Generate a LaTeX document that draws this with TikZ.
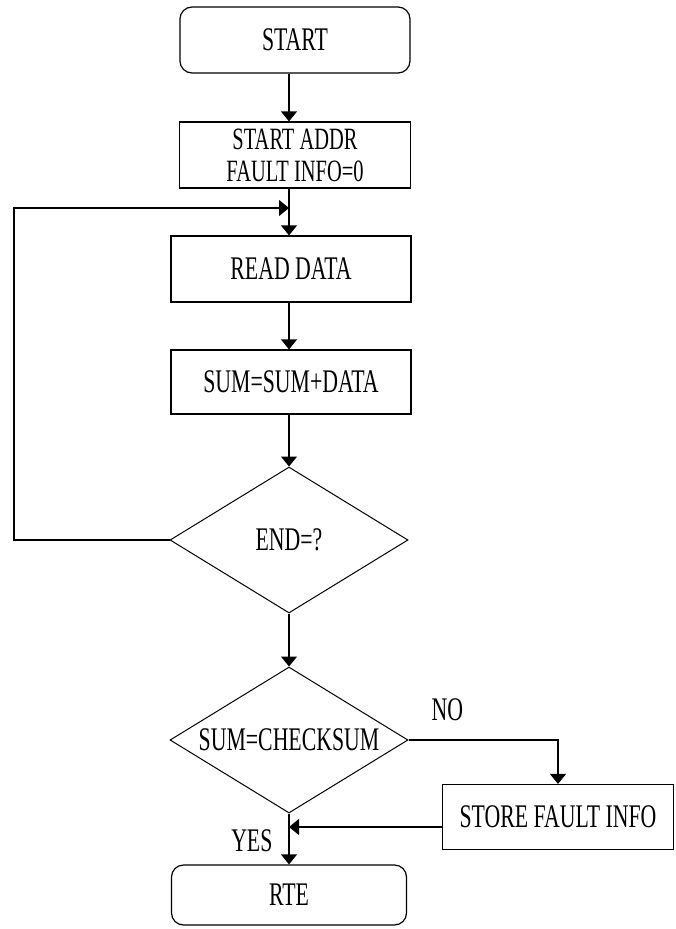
\documentclass[tikz,border=0pt]{standalone}
\usepackage{fontspec}
\setmainfont{Liberation Serif}[FakeStretch=0.66]
\usetikzlibrary{shapes.geometric,arrows.meta}

\begin{document}
\begin{tikzpicture}[x=1pt,y=-1pt,
	font=\fontsize{33}{29}\selectfont,
	pfeil/.style={-{Triangle[width=16pt,length=10pt]}, line width=1.2pt},
	kasten/.style={draw, line width=1.2pt, minimum height=66pt, align=center, inner sep=0pt},
	ende/.style={kasten, rounded corners=12pt},
	raute/.style={draw, diamond, aspect=1.63, line width=1pt, inner sep=0pt, minimum width=238pt, minimum height=146pt},
	marke/.style={inner sep=0pt}]
		%Hintergrund
		\fill [white] (0,0) rectangle (676,929);
		\useasboundingbox (0,0) rectangle (676,929);
		% Bloecke
		\node [ende, minimum width=230pt] (start) at (295,40) {START};
		\node [kasten, minimum width=231pt, font=\fontsize{31}{32}\selectfont] (init) at (295,155) {START ADDR\\FAULT INFO=0};
		\node [kasten, minimum width=240pt] (lesen) at (291,269) {READ DATA};
		\node [kasten, minimum width=240pt, minimum height=64pt] (summe) at (291,382) {SUM=SUM+DATA};
		\node [raute] (fertig) at (289,540) {END=?};
		\node [raute] (pruefen) at (289,740) {SUM=CHECKSUM};
		\node [kasten, minimum width=231pt, minimum height=65pt] (fehler) at (558,817) {STORE FAULT INFO};
		\node [ende, minimum width=235pt, minimum height=60pt] (rte) at (289,895) {RTE};
		% Hilfspunkte
		\coordinate (knoten) at (289,208);
		\coordinate (links) at (14,208);
		\coordinate (zurueck) at (289,827);
		% Pfeile
		\draw [pfeil] (start.south -| fertig) -- (init.north -| fertig);
		\draw [line width=1.2pt] (init.south -| fertig) -- (knoten);
		\draw [pfeil] (knoten) -- (lesen.north -| fertig);
		\draw [pfeil] (lesen.south -| fertig) -- (summe.north -| fertig);
		\draw [pfeil] (summe.south -| fertig) -- (fertig.north);
		\draw [pfeil] (fertig.west) -| (links) -- (knoten); % Schleife
		\draw [pfeil] (fertig.south) -- (pruefen.north);
		\draw [pfeil] (pruefen.east) -| node [marke, pos=0.13, above=19pt] {NO} (fehler.north);
		\draw [pfeil] (fehler.west |- zurueck) -- (zurueck);
		\draw [pfeil] (pruefen.south) -- node [marke, pos=0.54, left=16pt] {YES} (rte.north);
\end{tikzpicture}
\end{document}
